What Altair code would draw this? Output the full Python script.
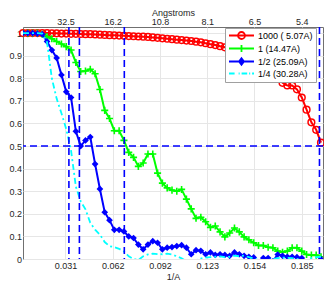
import altair as alt
import pandas as pd

# ---- data -------------------------------------------------------------
step = 0.00313                      # spatial-frequency sampling step (1/A)
freq = [round(step * k, 5) for k in range(1, 64)]

series = ["1000 (\u00a05.07A)", "1 (14.47A)", "1/2 (25.09A)", "1/4 (30.28A)"]
resolutions = [5.07, 14.47, 25.09, 30.28]
colors = ["#ff0000", "#00ff00", "#0000ff", "#00ffff"]

red = [1.0, 1.0, 1.0, 1.0, 1.0, 1.0, 0.999, 0.999, 0.998, 0.998, 0.997, 0.997, 0.996, 0.995, 0.995,
       0.994, 0.993, 0.992, 0.991, 0.99, 0.989, 0.988, 0.987, 0.986, 0.985, 0.984, 0.983, 0.981, 0.979, 0.977,
       0.975, 0.973, 0.971, 0.969, 0.967, 0.965, 0.962, 0.959, 0.955, 0.951, 0.947, 0.942, 0.937, 0.931, 0.925,
       0.916, 0.906, 0.895, 0.88, 0.86, 0.84, 0.825, 0.812, 0.80, 0.78, 0.768, 0.768, 0.751, 0.715, 0.661,
       0.605, 0.572, 0.515]
green = [1.0, 1.0, 1.0, 1.0, 0.995, 0.985, 0.975, 0.963, 0.952, 0.94, 0.925, 0.87, 0.83, 0.832, 0.84,
         0.82, 0.75, 0.658, 0.622, 0.568, 0.568, 0.525, 0.472, 0.45, 0.41, 0.425, 0.465, 0.465, 0.38, 0.336,
         0.315, 0.305, 0.30, 0.308, 0.265, 0.222, 0.18, 0.185, 0.165, 0.14, 0.146, 0.12, 0.098, 0.115, 0.137,
         0.12, 0.098, 0.085, 0.072, 0.06, 0.06, 0.052, 0.05, 0.035, 0.03, 0.035, 0.05, 0.05, 0.035, 0.02,
         0.017, 0.017, 0.01]
blue = [1.0, 1.0, 1.0, 0.998, 0.995, 0.963, 0.925, 0.89, 0.815, 0.74, 0.715,
        0.565, 0.50, 0.525, 0.54, 0.42, 0.31, 0.207, 0.172, 0.129, 0.129, 0.122, 0.10, 0.093,
        0.064, 0.043, 0.064, 0.079, 0.072, 0.043, 0.05, 0.053, 0.057, 0.061, 0.05, 0.021, 0.039, 0.036,
        0.021, 0.029, 0.018, 0.021, 0.018, 0.014, 0.029, 0.021, 0.014, 0.01, 0.007,
        -0.02, 0.004, 0.004, -0.01, 0.02, 0.014, 0.01, 0.01, 0.008, 0.004, -0.02, -0.03, -0.02, 0.0]
cyan = [1.0, 1.0, 1.0, 1.0, 0.998, 0.96, 0.80, 0.71, 0.645, 0.575, 0.48, 0.32, 0.255, 0.22, 0.16,
        0.13, 0.108, 0.075, 0.057, 0.052, 0.045, 0.033, 0.012, 0.0, -0.005, 0.012, 0.02, 0.024, 0.022, 0.021,
        0.024, 0.02, 0.012, 0.003, -0.01, -0.01, -0.005, 0.002, 0.006, 0.008, 0.01, 0.012, 0.008, 0.01, 0.015,
        0.012, 0.015, 0.008, 0.003, -0.005, -0.01, -0.005, 0.0, 0.004, 0.006, 0.005, 0.004, 0.0, -0.005, -0.005,
        0.004, 0.008, 0.01]

x_ticks = [k / 32.5 for k in range(1, 7)]
bottom_labels = ["0.031", "0.062", "0.092", "0.123", "0.154", "0.185"]
top_labels = ["32.5", "16.2", "10.8", "8.1", "6.5", "5.4"]
y_ticks = [i / 10 for i in range(11)]

vlines = [1 / 30.28, 1 / 25.09, 1 / 14.47, 0.1962]
hline = [0.5]

# ---- tables -----------------------------------------------------------
rows = []
for name, vals in zip(series, [red, green, blue, cyan]):
    for f, v in zip(freq, vals):
        rows.append({"f": f, "frc": v, "series": name})
df = pd.DataFrame(rows)
vdf = pd.DataFrame({"f": vlines})
hdf = pd.DataFrame({"frc": hline})

FONT = "Liberation Sans"
TXT = "#262626"

xscale = alt.Scale(domain=[0.00313, 0.1985], nice=False, zero=False)
yscale = alt.Scale(domain=[0, 1.027], nice=False, zero=False)

def arr_expr(lst):
    return "[" + ",".join("'" + s + "'" for s in lst) + "][round(datum.value*32.5)-1]"

bottom_axis = alt.Axis(values=x_ticks, labelExpr=arr_expr(bottom_labels), title="1/A",
                       orient="bottom", grid=True, labelPadding=2, titlePadding=2)
top_axis = alt.Axis(values=x_ticks, labelExpr=arr_expr(top_labels), title="Angstroms",
                    orient="top", grid=False, labelPadding=1, titlePadding=0)
y_axis = alt.Axis(values=y_ticks, format=".1~f", title=None, grid=True, labelPadding=1.5)

def X(axis=None):
    return alt.X("f:Q", scale=xscale, axis=axis)

def Y():
    return alt.Y("frc:Q", scale=yscale, axis=y_axis)

base = alt.Chart(df)
layers = []

# red
r = base.transform_filter(alt.datum.series == series[0])
layers.append(r.mark_line(color=colors[0], strokeWidth=2, clip=True).encode(x=X(bottom_axis), y=Y()))
layers.append(r.mark_point(shape="circle", filled=False, color=colors[0], size=45, strokeWidth=1.5,
                           opacity=1, clip=False).encode(x=X(top_axis), y=Y()))
# green
g = base.transform_filter(alt.datum.series == series[1])
layers.append(g.mark_line(color=colors[1], strokeWidth=2, clip=True).encode(x=X(), y=Y()))
layers.append(g.mark_point(shape="M-1,0L1,0M0,-1L0,1", filled=False, color=colors[1], size=50,
                           strokeWidth=1.6, opacity=1, clip=True).encode(x=X(), y=Y()))
# blue
b = base.transform_filter(alt.datum.series == series[2])
layers.append(b.mark_line(color=colors[2], strokeWidth=2, clip=True).encode(x=X(), y=Y()))
layers.append(b.mark_point(shape="diamond", filled=True, color=colors[2], size=45, opacity=1,
                           clip=True).encode(x=X(), y=Y()))
# cyan
c = base.transform_filter(alt.datum.series == series[3])
layers.append(c.mark_line(color=colors[3], strokeWidth=1.8, strokeDash=[6, 3, 2, 3], clip=True)
              .encode(x=X(), y=Y()))

# dashed guide lines
layers.append(alt.Chart(vdf).mark_rule(color="#0000ff", strokeWidth=1.6, strokeDash=[7, 4])
              .encode(x=X()))
layers.append(alt.Chart(hdf).mark_rule(color="#0000ff", strokeWidth=1.6, strokeDash=[7, 4])
              .encode(y=alt.Y("frc:Q", scale=yscale, axis=y_axis)))

# legend (symbols drawn as line + marker glyphs; 1 unit = 3.5 px)
paths = [
    "M-1,0L6.14,0M1.57,0A1,1,0,1,0,3.57,0A1,1,0,1,0,1.57,0",
    "M-1,0L6.14,0M1.57,0L3.57,0M2.57,-1L2.57,1",
    "M-1,0L6.14,0M2.57,-0.95L3.27,0L2.57,0.95L1.87,0ZM2.57,-0.45L2.9,0L2.57,0.45L2.24,0Z",
    "M-1,0L0.6,0M1.75,0L2.05,0M2.6,0L4.2,0M4.75,0L5.05,0M5.6,0L6.14,0",
]
leg = alt.Legend(orient="none", legendX=202, legendY=1, title=None, fillColor="white",
                 strokeColor="#a0a0a0", padding=3, symbolSize=49, symbolStrokeWidth=1.8,
                 labelFontSize=9, labelFont=FONT, labelColor="black", rowPadding=-2, labelOffset=21,
                 symbolFillColor="transparent")
layers.append(base.transform_filter("false").mark_point(filled=False, strokeWidth=1.8, opacity=1)
              .encode(x=X(), y=Y(),
                      color=alt.Color("series:N", scale=alt.Scale(domain=series, range=colors), legend=leg),
                      shape=alt.Shape("series:N", scale=alt.Scale(domain=series, range=paths), legend=leg)))

chart = (alt.layer(*layers)
         .resolve_axis(x="independent")
         .properties(width=300, height=232,
                     autosize=alt.AutoSizeParams(type="none"),
                     padding={"left": 15, "top": 19, "right": 1, "bottom": 24})
         .configure_view(stroke="#707070", strokeWidth=1)
         .configure_axis(domain=False, ticks=False, labelFont=FONT, labelFontSize=9, labelColor=TXT,
                         titleFont=FONT, titleFontSize=9, titleFontWeight="normal", titleColor=TXT,
                         gridColor="#e6e6e6", gridWidth=1))

chart.save("out.html", embed_options={"renderer": "svg", "actions": False})
